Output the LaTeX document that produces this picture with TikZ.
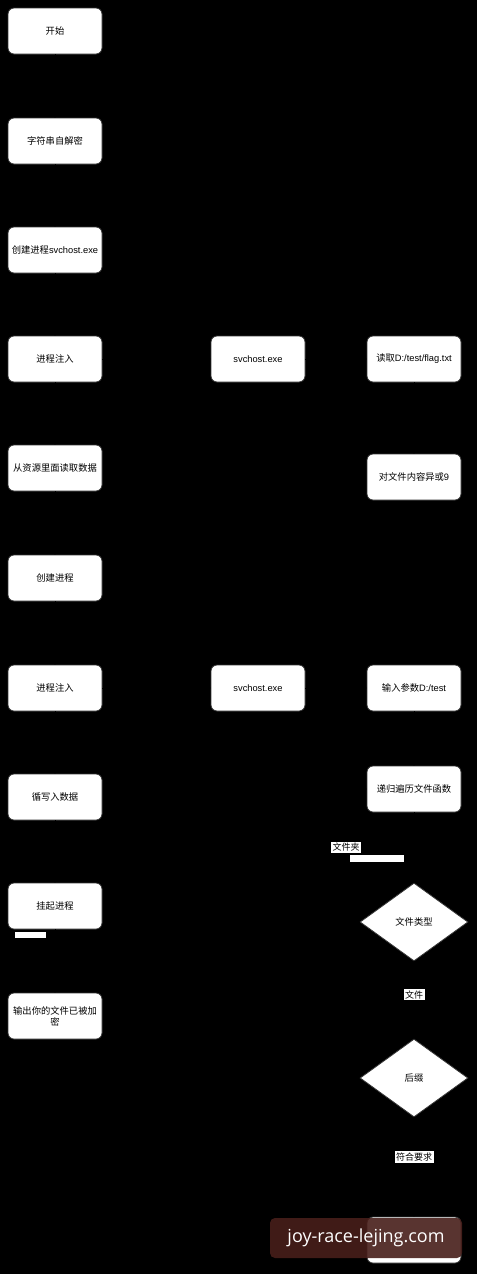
\documentclass[tikz,border=0pt]{standalone}
\usepackage{fontspec}
\usepackage{tikz}
\usetikzlibrary{shapes.geometric}
\newfontfamily\cjk{Noto Sans CJK SC}
\newfontfamily\latin{Liberation Sans}
\newfontfamily\wmfont{Open Sans}
\tikzstyle{procbox}=[rectangle, rounded corners=6pt, fill=white, draw=black!80, thick, minimum width=94pt, minimum height=46pt, inner sep=2pt, align=center, font=\cjk\fontsize{9.3}{11}\selectfont]
\tikzstyle{choice}=[diamond, fill=white, draw=black!80, thick, minimum width=108pt, minimum height=78pt, inner sep=0pt, font=\cjk\fontsize{9.3}{11}\selectfont]
\tikzstyle{edgelab}=[fill=white, inner sep=1.5pt, font=\cjk\fontsize{9}{10}\selectfont]
\tikzstyle{flow}=[->, draw=black, thick]

\begin{document}
\begin{tikzpicture}[x=1pt, y=-1pt]
		   \useasboundingbox (0, 0) rectangle (477, 1274);
		   \fill [black] (0, 0) rectangle (477, 1274);
		   \begin{scope}
			   \node (start) at (55, 31) [procbox] {开始};
			   \node (decode) at (55, 141) [procbox] {字符串自解密};
			   \node (create1) at (55, 250) [procbox] {创建进程{\latin svchost.exe}};
			   \node (inject1) at (55, 359) [procbox] {进程注入};
			   \node (res) at (55, 468) [procbox] {从资源里面读取数据};
			   \node (create2) at (55, 578) [procbox] {创建进程};
			   \node (inject2) at (55, 688) [procbox] {进程注入};
			   \node (write) at (55, 797) [procbox] {循写入数据};
			   \node (suspend) at (55, 906) [procbox] {挂起进程};
			   \node (out) at (55, 1016) [procbox] {输出你的文件已被加\\密};

			   \node (svc1) at (258, 359) [procbox] {\latin svchost.exe};
			   \node (svc2) at (258, 688) [procbox] {\latin svchost.exe};

			   \node (readflag) at (414, 359) [procbox] {读取{\latin D:/test/flag.txt}};
			   \node (xor) at (414, 477) [procbox] {对文件内容异或{\latin 9}};
			   \node (arg) at (414, 688) [procbox] {输入参数{\latin D:/test}};
			   \node (walk) at (414, 789) [procbox] {递归遍历文件函数};
			   \node (ftype) at (414, 922) [choice] {文件类型};
			   \node (suffix) at (414, 1078) [choice] {后缀};
			   \node (enc) at (414, 1240) [procbox] {};
			   \coordinate (loop) at (346, 922);
		   \end{scope}
		   \begin{scope}
			   \path [flow] (start) edge (decode);
			   \path [flow] (decode) edge (create1);
			   \path [flow] (create1) edge (inject1);
			   \path [flow] (inject1) edge (res);
			   \path [flow] (res) edge (create2);
			   \path [flow] (create2) edge (inject2);
			   \path [flow] (inject2) edge (write);
			   \path [flow] (write) edge (suspend);
			   \path [flow] (suspend) edge (out);

			   \path [flow] (inject1) edge (svc1);
			   \path [flow] (svc1) edge (readflag);
			   \path [flow] (readflag) edge (xor);

			   \path [flow] (inject2) edge (svc2);
			   \path [flow] (svc2) edge (arg);
			   \path [flow] (arg) edge (walk);
			   \path [flow] (walk) edge (ftype);
			   \path [flow] (ftype) edge node [edgelab, pos=0.43] {文件} (suffix);
			   \path [flow] (suffix) edge node [edgelab, pos=0.4] {符合要求} (enc);
			   \draw [flow] (ftype.west) -- (loop) |- node [edgelab, pos=0.28] {文件夹} (walk.west);
		   \end{scope}
		   % leftover label backgrounds
		   \fill [white] (350, 855) rectangle (404, 862);
		   \fill [white] (15, 932) rectangle (46, 938);
		   % watermark
		   \node (wm) at (366, 1238) [rectangle, rounded corners=5pt, fill={rgb,255:red,72;green,30;blue,26}, fill opacity=0.9, text opacity=1, minimum width=192pt, minimum height=40pt, text=white, font=\wmfont\fontsize{18}{20}\selectfont] {joy-race-lejing.com};
	   \end{tikzpicture}
\end{document}
